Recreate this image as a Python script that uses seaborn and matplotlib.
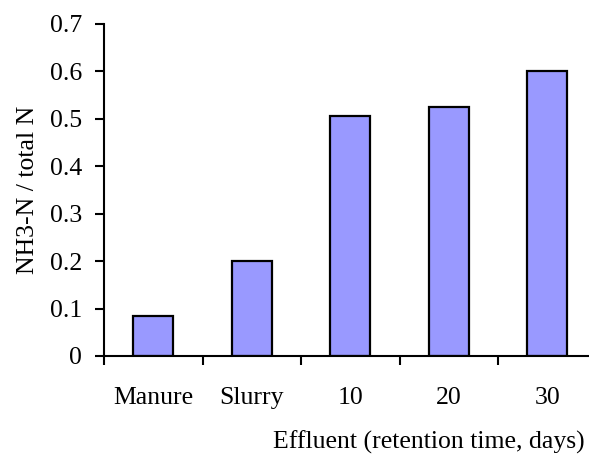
import matplotlib
matplotlib.use("Agg")
import matplotlib.pyplot as plt
import seaborn as sns
import pandas as pd
import numpy as np

categories = ["Manure", "Slurry", "10", "20", "30"]
values = [0.085, 0.201, 0.505, 0.525, 0.601]
yticks = [0, 0.1, 0.2, 0.3, 0.4, 0.5, 0.6, 0.7]
ytick_labels = ["0", "0.1", "0.2", "0.3", "0.4", "0.5", "0.6", "0.7"]
ylabel = "NH3-N / total N"
xlabel = "Effluent (retention time, days)"

sns.set_style("white")
plt.rcParams["font.family"] = ["Liberation Serif", "DejaVu Serif"]

FS = 18.5
W, H = 589, 454
fig = plt.figure(figsize=(W / 100, H / 100), dpi=100)
left, right_px, top_px, bottom_px = 104, 596.5, 24, 356
ax = fig.add_axes([left / W, 1 - bottom_px / H, (right_px - left) / W, (bottom_px - top_px) / H])

df = pd.DataFrame({"cat": categories, "val": values})
sns.barplot(data=df, x="cat", y="val", ax=ax, color="#9999FF", saturation=1,
            width=0.41, edgecolor="black", linewidth=1.6, errorbar=None)

ax.set_xlim(-0.5, len(categories) - 0.5)
ax.set_ylim(0, 0.7)
ax.set_yticks(yticks)
ax.set_yticklabels(ytick_labels, fontsize=FS)
ax.set_xticks(range(len(categories)))
ax.set_xticklabels(categories, fontsize=FS)
ax.set_xticks(np.arange(-0.5, len(categories) + 0.5, 1), minor=True)

for s in ["top", "right"]:
    ax.spines[s].set_visible(False)
for s in ["left", "bottom"]:
    ax.spines[s].set_linewidth(1.5)
    ax.spines[s].set_color("black")

ax.tick_params(axis="y", which="major", direction="out", length=6.5, width=1.5,
               color="black", pad=9.5, left=True, labelcolor="black")
ax.tick_params(axis="x", which="major", length=0, pad=22.5, labelcolor="black")
ax.tick_params(axis="x", which="minor", direction="out", length=6.5, width=1.5,
               color="black", bottom=True)

ax.set_xlabel("")
ax.set_ylabel(ylabel, fontsize=FS, color="black")
ax.yaxis.set_label_coords(-0.132, 0.5)

fig.text(585 / W, 1 - 442 / H, xlabel, ha="right", va="center", fontsize=FS, color="black")

fig.savefig("out.png", dpi=100)
